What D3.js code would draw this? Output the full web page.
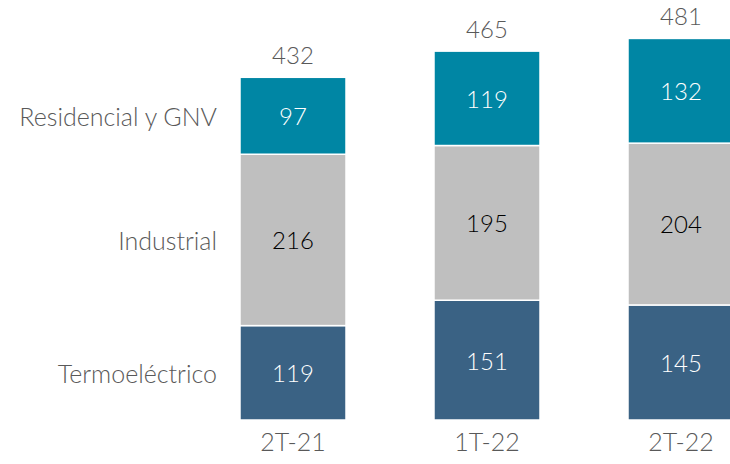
<!DOCTYPE html>
<html><head><meta charset="utf-8">
<script src="https://cdn.jsdelivr.net/npm/d3@7"></script>
<style>body{margin:0;background:#fff}svg{display:block}</style>
</head><body><svg width="730" height="464"></svg>
<script>
const categories = ["2T-21", "1T-22", "2T-22"];
const seriesNames = ["Termoeléctrico", "Industrial", "Residencial y GNV"];
const termoelectrico = [119, 151, 145];
const industrial = [216, 195, 204];
const residencial = [97, 119, 132];
const totals = [432, 465, 481];

const colors = ["#3A6284", "#BFBFBF", "#0086A4"];
const textColors = ["#ffffff", "#000000", "#ffffff"];
const font = "Lato, 'Open Sans', sans-serif";
const fsNum = 24;
const fsLab = 25;

const data = categories.map((c, i) => ({cat: c, "Termoeléctrico": termoelectrico[i], "Industrial": industrial[i], "Residencial y GNV": residencial[i], total: totals[i]}));
const stack = d3.stack().keys(seriesNames)(data);

const svg = d3.select("svg");
const x = d3.scaleBand().domain(categories).range([196, 778]).paddingInner(0.4536).paddingOuter(0.2268);
const y = d3.scaleLinear().domain([0, 432]).range([420, 77.3]);

const g = svg.append("g");
stack.forEach((layer, li) => {
  g.selectAll(null).data(layer).enter().append("rect")
    .attr("x", d => x(d.data.cat))
    .attr("y", d => y(d[1]))
    .attr("width", x.bandwidth())
    .attr("height", d => y(d[0]) - y(d[1]))
    .attr("fill", colors[li])
    .attr("stroke", "#fff").attr("stroke-width", 1.5);
  g.selectAll(null).data(layer).enter().append("text")
    .attr("x", d => x(d.data.cat) + x.bandwidth()/2)
    .attr("y", d => (y(d[0]) + y(d[1]))/2 + 1)
    .attr("dy", "0.35em")
    .attr("text-anchor", "middle")
    .attr("font-family", font).attr("font-weight", 300).attr("font-size", fsNum)
    .attr("fill", textColors[li])
    .text(d => d[1] - d[0]);
  const first = layer[0];
  svg.append("text")
    .attr("x", 217)
    .attr("y", (y(first[0]) + y(first[1]))/2 + 1)
    .attr("dy", "0.35em")
    .attr("text-anchor", "end")
    .attr("font-family", font).attr("font-weight", 300).attr("font-size", fsLab)
    .attr("fill", "#595959")
    .text(seriesNames[li]);
});

g.selectAll(null).data(data).enter().append("text")
  .attr("x", d => x(d.cat) + x.bandwidth()/2)
  .attr("y", d => y(d.total) - 13)
  .attr("text-anchor", "middle")
  .attr("font-family", font).attr("font-weight", 300).attr("font-size", fsNum)
  .attr("fill", "#595959")
  .text(d => d.total);

const xAxis = svg.append("g").attr("transform", "translate(0,420)")
  .call(d3.axisBottom(x).tickSize(0).tickPadding(13));
xAxis.select(".domain").remove();
xAxis.selectAll("text").attr("font-family", font).attr("font-weight", 300).attr("font-size", fsLab).attr("fill", "#595959");
</script></body></html>
